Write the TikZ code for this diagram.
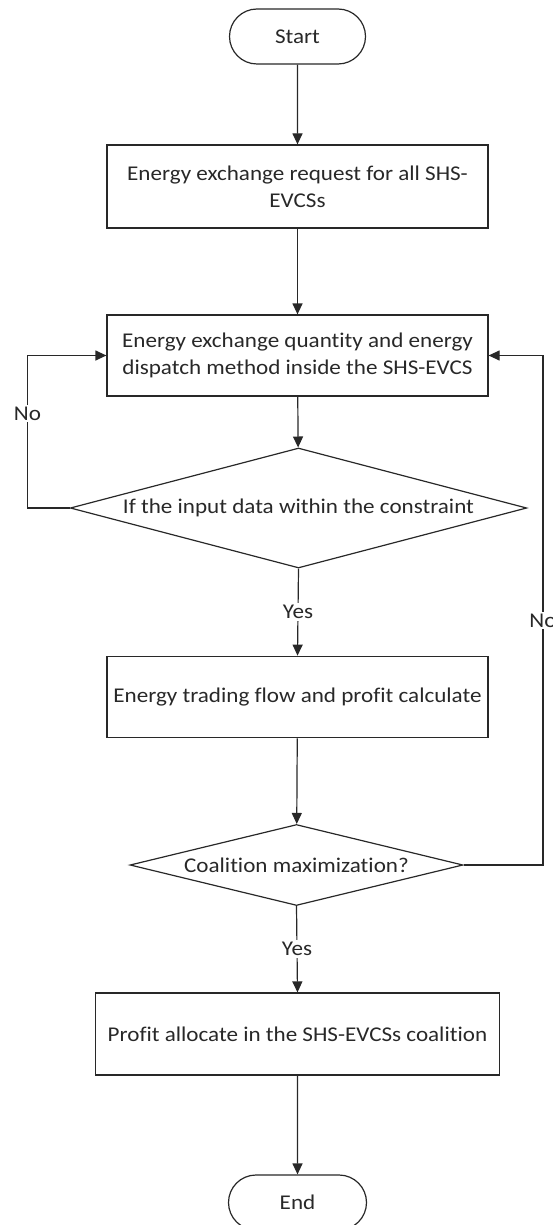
\documentclass[tikz,border=0pt]{standalone}
\usepackage{fontspec}
\setmainfont{Carlito}[FakeStretch=1.1,Ligatures=NoCommon]
\usetikzlibrary{arrows.meta,shapes.geometric,shapes.misc}
\definecolor{ink}{RGB}{40,40,40}
\begin{document}
\begin{tikzpicture}[x=1pt,y=-1pt,
  font=\fontsize{21}{27}\selectfont, text=ink,
  term/.style={rounded rectangle, draw=ink, line width=1.2pt, minimum width=136pt, minimum height=55pt, inner sep=0pt},
  procbox/.style={rectangle, draw=ink, line width=1.2pt, minimum width=381pt, inner sep=0pt, align=center},
  decis/.style={diamond, draw=ink, line width=1.2pt, inner sep=0pt},
  lbl/.style={fill=white, inner sep=2pt},
  flow/.style={draw=ink, line width=1.2pt, -{Triangle[length=11pt,width=10pt]}}]
\useasboundingbox (0,0) rectangle (553,1225);
\node[term] (start) at (297.5,36.5) {Start};
\node[procbox, minimum height=83pt] (b1) at (297.5,186.5) {Energy exchange request for all SHS-\\EVCSs};
\node[procbox, minimum height=81pt] (b2) at (297.5,355.5) {Energy exchange quantity and energy\\dispatch method inside the SHS-EVCS};
\node[decis, minimum width=456.5pt, minimum height=120pt] (d1) at (298.5,508) {};
\node (d1t) at (d1.center) {If the input data within the constraint};
\node[procbox, minimum height=81.5pt] (b3) at (297.5,697) {Energy trading flow and profit calculate};
\node[decis, minimum width=333pt, minimum height=81pt] (d2) at (296.5,865) {};
\node (d2t) at (d2.center) {Coalition maximization?};
\node[procbox, minimum width=403.5pt, minimum height=82pt] (b4) at (297.5,1034) {Profit allocate in the SHS-EVCSs coalition};
\node[term, minimum width=138pt] (end) at (297.5,1202.5) {End};
\coordinate (lc) at (27.5,508);
\coordinate (rc) at (543,865);
\draw[flow] (start) -- (b1);
\draw[flow] (b1) -- (b2);
\draw[flow] (b2) -- (d1);
\draw[flow] (d1.west) -- (lc) |- node[lbl, pos=0.31] (no1) {No} (b2.west);
\draw[flow] (d1.south) -- node[lbl] (yes1) {Yes} (b3.north);
\draw[flow] (b3) -- (d2);
\draw[flow] (d2.east) -- (rc) |- node[lbl, pos=0.24] (no2) {No} (b2.east);
\draw[flow] (d2.south) -- node[lbl] (yes2) {Yes} (b4.north);
\draw[flow] (b4) -- (end);
\end{tikzpicture}
\end{document}
